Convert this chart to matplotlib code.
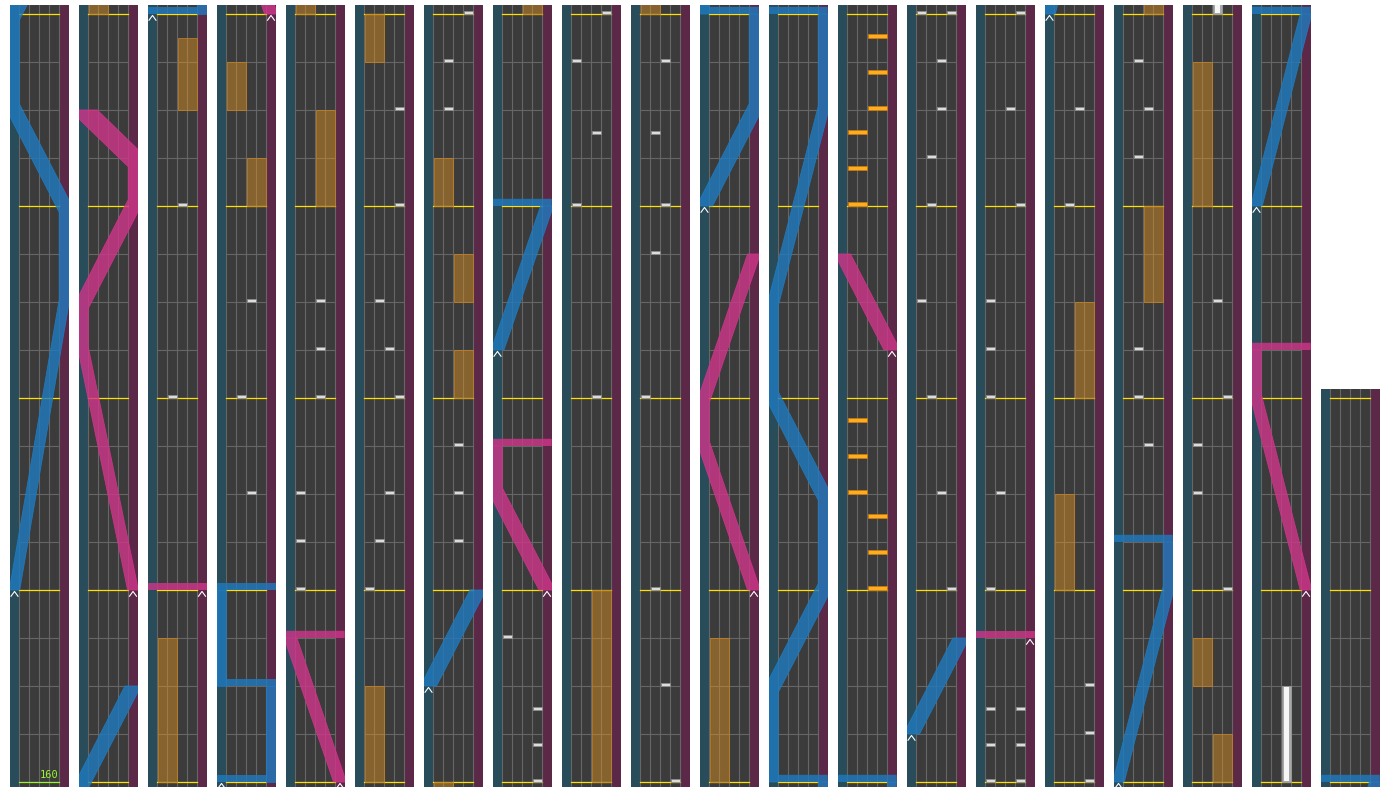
import matplotlib
matplotlib.use("Agg")
import matplotlib.pyplot as plt
import numpy as np
from matplotlib.patches import Rectangle, PathPatch
from matplotlib.path import Path

# chart content, times in beats (4 beats per measure), lanes 0-3 = A-D
n_beats = 312
bpm_label = "160"

taps = [
    (44, 2), (40, 1),
    (58, 2), (56, 1), (54, 2),
    (74, 2), (73, 2), (72, 2), (70, 0), (69, 0), (68, 0),
    (94, 3), (92, 3), (90, 1), (89, 2), (88, 3), (86, 2), (85, 1), (84, 0),
    (112, 3), (111, 1), (110, 1), (103, 2), (102, 2), (101, 2),
    (115, 0), (113.5, 3), (112.75, 3),
    (144, 3), (143, 0), (141.5, 2), (140, 0), (136, 2),
    (159, 2), (157.5, 1), (156, 2), (155, 1), (152, 0), (148, 1), (146, 2),
    (224, 0), (224, 3), (223, 2), (222, 2), (221, 1), (220, 1), (218, 0),
    (216, 1), (214, 2), (212, 3),
    (240, 3), (238, 2), (236, 3), (234, 0), (233, 0), (232, 0), (230, 1),
    (228, 0), (225.5, 0), (225.5, 3), (224.75, 0), (224.75, 3),
    (254, 2), (252, 1), (242, 3), (241, 3),
    (271, 1), (270, 2), (269, 1), (265, 1), (264, 1), (263, 2),
    (282, 2), (280, 3), (279, 0), (278, 0), (276, 3),
]

# FX side: 0 = left pair (A-B), 1 = right pair (C-D)
fx_holds = [
    (32, 35, 0), (46, 47.5, 1), (60, 61, 1), (62, 63, 0), (76, 78, 1),
    (80, 82, 0), (95, 96, 0), (104, 105, 1), (106, 107, 1), (108, 109, 0),
    (128, 132, 1), (160, 163, 0), (244, 246, 0), (248, 250, 1),
    (266, 268, 1), (272, 273, 1), (274, 275, 0), (284, 287, 0),
]

fx_chips = [
    (207.5, 1), (206.75, 1), (206, 1), (205.5, 0), (204.75, 0), (204, 0),
    (199.5, 0), (198.75, 0), (198, 0), (197.5, 1), (196.75, 1), (196, 1),
]

bt_holds = [(288, 290, 2)]

# lasers: (beat, position 0..1); two points on one beat make a slam
blue_lasers = [
    [(4, 0), (10, 1), (12, 1), (14, 0), (16, 0), (18, 1)],
    [(48, 0), (48, 1), (50, 1), (50, 0), (52, 0), (52, 1)],
    [(98, 0), (100, 1)],
    [(121, 0), (124, 1), (124, 0)],
    [(172, 0), (174, 1), (176, 1), (176, 0), (178, 0), (180, 1), (182, 1),
     (184, 0), (186, 0), (190, 1), (192, 1), (192, 0)],
    [(209, 0), (211, 1)],
    [(256, 0), (260, 1), (261, 1), (261, 0)],
    [(300, 0), (304, 1), (304, 0)],
]

pink_lasers = [
    [(20, 1), (25, 0), (26, 0), (28, 1), (29, 1), (30, 0)],
    [(36, 1), (36, 0)],
    [(64, 1), (67, 0), (67, 1)],
    [(116, 1), (118, 0), (119, 0), (119, 1)],
    [(164, 1), (167, 0), (168, 0), (171, 1)],
    [(201, 1), (203, 0)],
    [(227, 1), (227, 0)],
    [(292, 1), (296, 0), (297, 0), (297, 1)],
]

# look
TEAL = "#284c5a"
PURPLE = "#5c2848"
LANE_BG = "#3b3b3b"
GRID = "#666666"
YELLOW = "#ffe000"
GREEN = "#98f52c"
BLUE = "#1f7bc0"
PINK = "#d0358a"

FIG_W, FIG_H = 1390, 792
PX_PER_BEAT = 48
LASER_HW = 4.75     # half width of a straight laser, px
LASER_K = 0.38      # vertical squash used for the laser thickness
SLAM_H = 0.15


def lane_x(lane):
    return 9 + 10 * lane


def laser_x(pos):
    return 4.5 + 49.5 * pos


def run_outline(run):
    # thick polyline outline, thickness measured in a squashed space
    sy = PX_PER_BEAT * LASER_K
    P = np.array([(laser_x(p), t * sy) for t, p in run], dtype=float)
    d = np.diff(P, axis=0)
    d /= np.linalg.norm(d, axis=1)[:, None]
    nrm = np.stack([d[:, 1], -d[:, 0]], axis=1)
    offs = []
    for i in range(len(P)):
        if i == 0 or i == len(P) - 1:
            nn = nrm[0] if i == 0 else nrm[-1]
            offs.append(np.array([LASER_HW / nn[0], 0.0]))
        else:
            m = nrm[i - 1] + nrm[i]
            m /= np.linalg.norm(m)
            offs.append(m * LASER_HW / np.dot(m, nrm[i]))
    offs = np.array(offs)
    right, left = P + offs, P - offs
    poly = np.vstack([right, left[::-1]])
    poly[:, 1] /= sy
    return [tuple(v) for v in poly]


def laser_polys(points):
    runs, slams = [], []
    run = [points[0]]
    for prev, cur in zip(points[:-1], points[1:]):
        if cur[0] == prev[0]:
            if len(run) > 1:
                runs.append(run_outline(run))
            x0, x1 = laser_x(prev[1]), laser_x(cur[1])
            xl, xr = min(x0, x1) - LASER_HW, max(x0, x1) + LASER_HW
            t = cur[0]
            slams.append([(xl, t), (xr, t), (xr, t + SLAM_H), (xl, t + SLAM_H)])
            run = [cur]
        else:
            run.append(cur)
    if len(run) > 1:
        runs.append(run_outline(run))
    return runs, slams


def compound(polys):
    verts, codes = [], []
    for poly in polys:
        verts += poly + [poly[0]]
        codes += [Path.MOVETO] + [Path.LINETO] * (len(poly) - 1) + [Path.CLOSEPOLY]
    return Path(verts, codes)


def overlaps(a, b, lo, hi):
    return b >= lo and a <= hi


fig = plt.figure(figsize=(FIG_W / 100, FIG_H / 100), dpi=100)
fig.patch.set_facecolor("white")

n_cols = (n_beats + 15) // 16
for c in range(n_cols):
    base = 16 * c
    length = min(16, n_beats - base)
    lo, hi = base - 0.1, base + length + 0.19
    ax = fig.add_axes([(10 + 69 * c) / FIG_W, 5.2 / FIG_H, 59 / FIG_W,
                       (hi - lo) * PX_PER_BEAT / FIG_H])
    ax.set_xlim(0, 59)
    ax.set_ylim(lo, hi)
    ax.axis("off")

    ax.add_patch(Rectangle((0, lo), 9, hi - lo, color=TEAL, lw=0, zorder=0))
    ax.add_patch(Rectangle((9, lo), 40, hi - lo, color=LANE_BG, lw=0, zorder=0))
    ax.add_patch(Rectangle((49, lo), 10, hi - lo, color=PURPLE, lw=0, zorder=0))

    for x in range(9, 50, 10):
        ax.plot([x, x], [lo, hi], color=GRID, lw=0.8, zorder=1)
    for b in range(base, base + length + 1):
        if b % 4:
            ax.plot([9, 49], [b, b], color=GRID, lw=0.8, zorder=1)
        else:
            ax.plot([9, 49], [b, b], color=GREEN if b == 0 else YELLOW,
                    lw=0.9, zorder=2)
    if c == 0:
        ax.text(48.8, 0.05, bpm_label, color=GREEN, fontsize=7.5, ha="right",
                va="bottom", family="DejaVu Sans Mono", zorder=8)

    # FX holds
    for t0, t1, side in fx_holds:
        if overlaps(t0, t1, lo, hi):
            x = lane_x(2 * side)
            ax.add_patch(Rectangle((x + 0.5, t0), 19, t1 - t0,
                                   facecolor=(0.9, 0.59, 0.12, 0.44),
                                   edgecolor=(0.75, 0.5, 0.15, 0.8),
                                   lw=0.7, zorder=3))
    # BT holds
    for t0, t1, lane in bt_holds:
        if overlaps(t0, t1, lo, hi):
            x = lane_x(lane)
            ax.add_patch(Rectangle((x + 1, t0), 8.5, t1 - t0, facecolor="#a8a8a8",
                                   edgecolor="#9a9a9a", lw=0.6, zorder=4))
            ax.add_patch(Rectangle((x + 3, t0 + 0.03), 4.5, t1 - t0 - 0.06,
                                   facecolor="#f6f6f6", lw=0, zorder=4))
    # FX chips
    for t, side in fx_chips:
        if overlaps(t, t, lo - 0.1, hi):
            x = lane_x(2 * side)
            ax.add_patch(Rectangle((x + 1, t - 0.01), 18.5, 0.09, facecolor="#ffad1f",
                                   edgecolor="#c47a12", lw=0.6, zorder=6))
    # taps
    for t, lane in taps:
        if overlaps(t, t, lo - 0.1, hi):
            x = lane_x(lane)
            ax.add_patch(Rectangle((x + 1, t - 0.01), 8.5, 0.08, facecolor="#dcdcdc",
                                   edgecolor="#8a8a8a", lw=0.6, zorder=6))
    # lasers
    for lasers, color in ((blue_lasers, BLUE), (pink_lasers, PINK)):
        for pts in lasers:
            if not overlaps(pts[0][0], pts[-1][0] + SLAM_H, lo, hi):
                continue
            runs, slams = laser_polys(pts)
            ax.add_patch(PathPatch(compound(runs + slams), facecolor=color,
                                   alpha=0.8, lw=0, zorder=5))
            if runs:
                ax.add_patch(PathPatch(compound(runs), facecolor="none",
                                       edgecolor=color, alpha=0.9, lw=0.6,
                                       zorder=5))
            t0, p0 = pts[0]
            cx = laser_x(p0)
            ax.plot([cx - 3.5, cx, cx + 3.5], [t0 - 0.13, t0 - 0.03, t0 - 0.13],
                    color="white", lw=0.8, zorder=7)

fig.savefig("out.png", dpi=100, facecolor="white")
